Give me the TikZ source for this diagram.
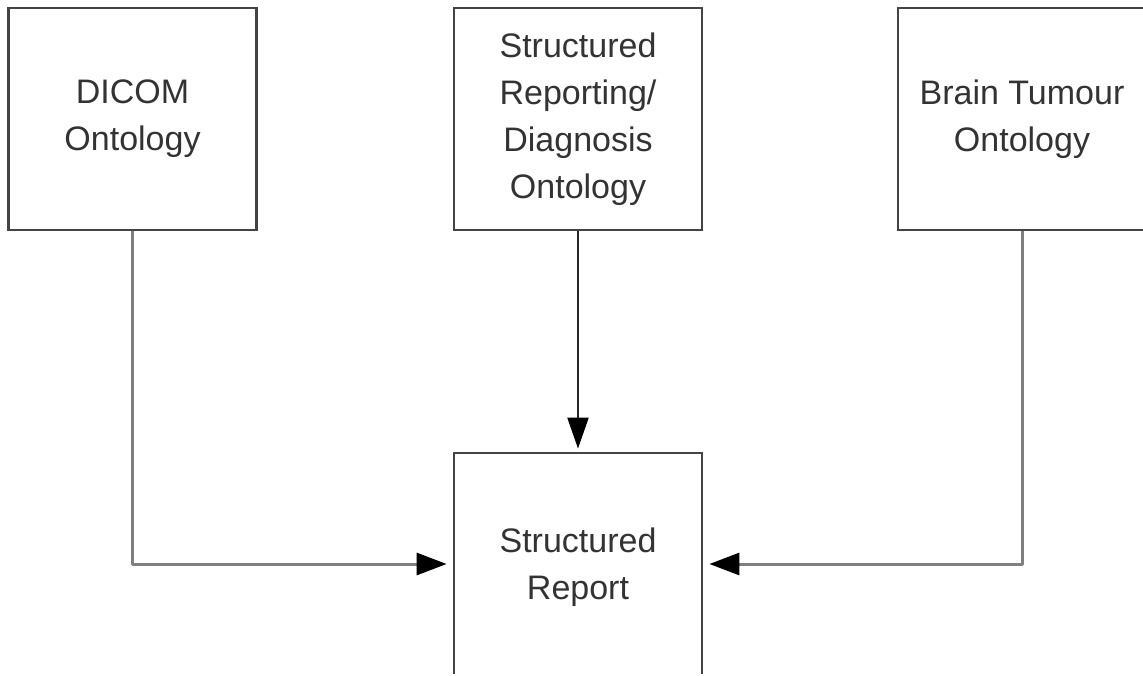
\documentclass[tikz,border=0pt]{standalone}
\usepackage{fontspec}
\setmainfont{Liberation Sans}
\usetikzlibrary{arrows.meta}
\definecolor{boxline}{HTML}{444444}
\definecolor{conn}{HTML}{7F7F7F}
\definecolor{txt}{HTML}{333333}
\tikzset{
  box/.style={draw=boxline, line width=2.8pt, fill=white, minimum width=248pt, minimum height=222pt,
    inner sep=0pt, align=center, text=txt, font=\fontsize{34}{47}\selectfont},
  conline/.style={draw=conn, line width=3pt, line join=round,
    -{Triangle[length=30pt,width=22pt,fill=black,color=black]}, shorten >=6pt},
  midline/.style={draw=black!85, line width=2.2pt,
    -{Triangle[length=31pt,width=21pt,fill=black,color=black]}, shorten >=3pt}
}
\begin{document}
\begin{tikzpicture}[x=1pt,y=-1pt]
\useasboundingbox (0,0) rectangle (1143,675);
\clip (0,0) rectangle (1143,673);
\node[box] (dicom) at (132.5,119) {DICOM\\Ontology};
\node[box] (srd) at (578,119) {Structured\\Reporting/\\Diagnosis\\Ontology};
\node[box] (brain) at (1022,119) {Brain Tumour\\Ontology};
\node[box, minimum height=228pt] (report) at (578,567) {Structured\\Report};
\draw[conline] (dicom.south) |- ([yshift=3pt]report.west);
\draw[conline] (brain.south) |- ([yshift=3pt]report.east);
\draw[midline] (srd.south) -- (report.north);
\end{tikzpicture}
\end{document}
